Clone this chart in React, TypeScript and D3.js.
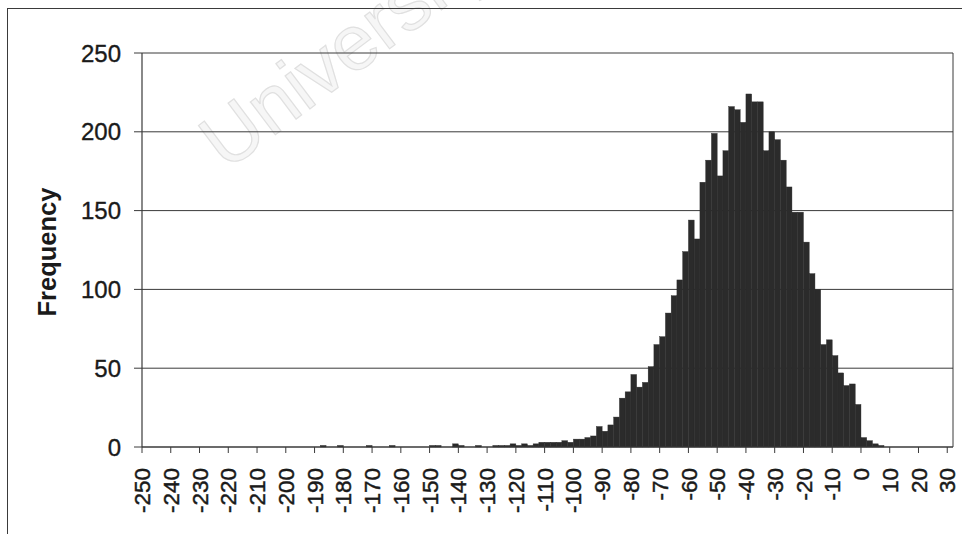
import React from 'react';
import * as d3 from 'd3';

// Histogram bins (start of each 2-unit bin) and their frequencies (non-zero bins only)
const binStarts = [
  -188, -182, -172, -164, -150, -148, -142, -140, -134, -128, -126, -124, -122, -120,
  -118, -116, -114, -112, -110, -108, -106, -104, -102,
  -100, -98, -96, -94, -92, -90, -88, -86, -84, -82, -80, -78, -76, -74, -72, -70,
  -68, -66, -64, -62, -60, -58, -56, -54, -52, -50, -48, -46, -44, -42, -40, -38,
  -36, -34, -32, -30, -28, -26, -24, -22, -20, -18, -16, -14, -12, -10, -8, -6,
  -4, -2, 0, 2, 4, 6,
];
const counts = [
  1, 1, 1, 1, 1, 1, 2, 1, 1, 1, 1, 1, 2, 1,
  2, 1, 2, 3, 3, 3, 3, 4, 3,
  5, 5, 6, 7, 13, 10, 14, 19, 31, 35, 46, 38, 41, 51, 65, 70,
  85, 96, 106, 124, 144, 132, 168, 182, 199, 172, 188, 216, 214, 206, 224, 219,
  219, 188, 200, 195, 182, 165, 149, 149, 130, 110, 100, 65, 68, 58, 47, 39,
  40, 27, 6, 4, 2, 1,
];
const binWidth = 2;

const xTickLabels = [
  -250, -240, -230, -220, -210, -200, -190, -180, -170, -160, -150, -140, -130, -120,
  -110, -100, -90, -80, -70, -60, -50, -40, -30, -20, -10, 0, 10, 20, 30,
];
const yTickLabels = [0, 50, 100, 150, 200, 250];
const yTitle = 'Frequency';
const watermark = 'University';

export default function App() {
  const W = 962;
  const H = 534;
  const left = 142;
  const right = 953;
  const top = 53;
  const bottom = 447;
  const x = d3.scaleLinear().domain([-250, 32]).range([left, right]);
  const y = d3.scaleLinear().domain([0, 250]).range([bottom, top]);
  const font = "'Liberation Sans', Arial, Helvetica, sans-serif";
  const barColor = '#2b2b2b';
  const lineColor = '#3a3a3a';
  const textColor = '#1a1a1a';

  return (
    <svg
      width={W}
      height={H}
      style={{ position: 'absolute', left: 0, top: 0, display: 'block' }}
      fontFamily={font}
    >
      <rect x={0} y={0} width={W} height={H} fill="#ffffff" />
      {/* faint scanned watermark */}
      <text
        x={226}
        y={172}
        transform="rotate(-37 226 172)"
        fontSize={78}
        fill="#f6f6f6"
        stroke="#e0e0e0"
        strokeWidth={1.2}
      >
        {watermark}
      </text>
      {/* outer chart frame */}
      <rect x={7.5} y={8.5} width={W} height={H} fill="none" stroke={lineColor} strokeWidth={1} />

      {/* gridlines */}
      {yTickLabels.map((t) => (
        <line
          key={'g' + t}
          x1={left}
          x2={right}
          y1={y(t)}
          y2={y(t)}
          stroke={lineColor}
          strokeWidth={1}
        />
      ))}

      {/* bars */}
      {binStarts.map((b, i) => (
        <rect
          key={'b' + b}
          x={x(b)}
          y={y(counts[i])}
          width={x(b + binWidth) - x(b)}
          height={y(0) - y(counts[i])}
          fill={barColor}
          stroke={barColor}
          strokeWidth={0.4}
        />
      ))}

      {/* plot area frame */}
      <line x1={left} x2={left} y1={top} y2={bottom} stroke={lineColor} strokeWidth={1.2} />
      <line x1={right} x2={right} y1={top} y2={bottom} stroke={lineColor} strokeWidth={1} />
      <line x1={left} x2={right} y1={bottom} y2={bottom} stroke={lineColor} strokeWidth={1.2} />

      {/* y ticks and labels */}
      {yTickLabels.map((t) => (
        <g key={'y' + t}>
          <line x1={left - 8} x2={left} y1={y(t)} y2={y(t)} stroke={lineColor} strokeWidth={1} />
          <text
            x={121}
            y={y(t)}
            dy="0.36em"
            textAnchor="end"
            fontSize={24}
            fill={textColor}
            stroke={textColor}
            strokeWidth={0.35}
          >
            {t}
          </text>
        </g>
      ))}

      {/* x ticks and labels */}
      {xTickLabels.map((t) => (
        <g key={'x' + t}>
          <line x1={x(t)} x2={x(t)} y1={bottom} y2={bottom + 6} stroke={lineColor} strokeWidth={1} />
          <text
            x={x(t)}
            y={468}
            dy="0.36em"
            transform={`rotate(-90 ${x(t)} 468)`}
            textAnchor="end"
            fontSize={22.5}
            fill={textColor}
            stroke={textColor}
            strokeWidth={0.45}
          >
            {t}
          </text>
        </g>
      ))}

      {/* y axis title */}
      <text
        x={56}
        y={252}
        transform="rotate(-90 56 252)"
        textAnchor="middle"
        fontSize={25.5}
        fontWeight="bold"
        fill={textColor}
      >
        {yTitle}
      </text>
    </svg>
  );
}
